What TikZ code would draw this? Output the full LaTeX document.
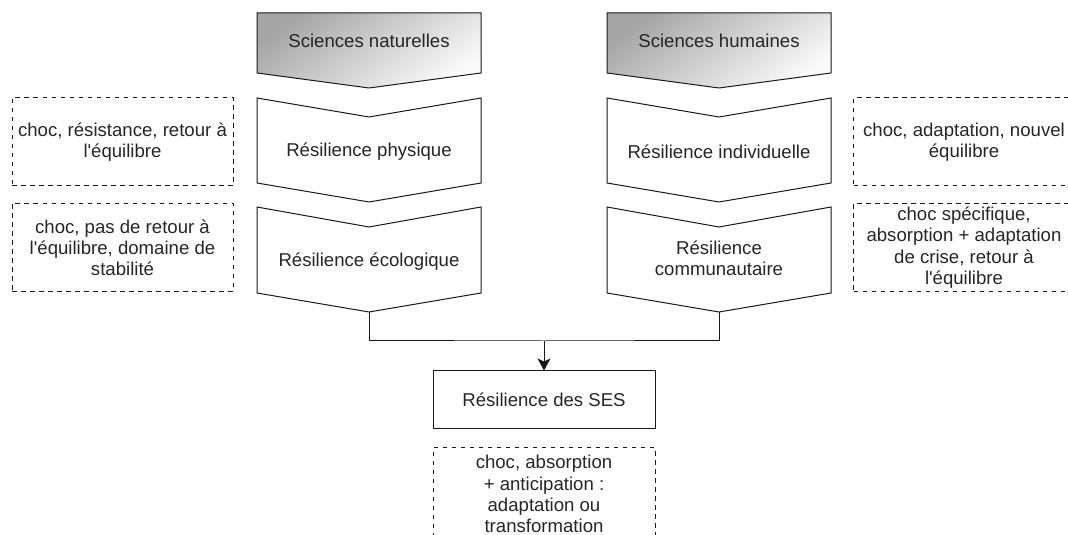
\documentclass[tikz,border=0pt]{standalone}
\usepackage{fontspec}
\setmainfont{Liberation Sans}
\usetikzlibrary{positioning,arrows.meta}

\begin{document}
\begin{tikzpicture}[x=1pt, y=1pt, line width=1pt, font=\fontsize{18.6}{21.2}\selectfont,
  txt/.style={text=black!85, align=center},
  chev/.style={draw=black!90, line join=miter, fill=white},
  head/.style={draw=black!90, line join=miter, top color=gray!70, bottom color=gray!4, shading angle=35},
  note/.style={draw=black!90, dash pattern=on 4.5pt off 4.5pt, minimum width=221pt, minimum height=88pt, inner sep=0pt, text=black!85, align=center},
  box/.style={draw=black!90, minimum width=222pt, minimum height=58pt, inner sep=0pt, text=black!85},
  ar/.style={-{Stealth[length=12pt,width=13pt,inset=3pt]}}]
      \useasboundingbox (0,0) rectangle (1068,535);
      \clip (0,0) rectangle (1068,535);

      % chevrons, left column
      \draw[head] (257,522) -- (481,522) -- (481,462) -- (369,447) -- (257,462) -- cycle;
      \draw[chev] (257,437) -- (369,418) -- (481,437) -- (481,352) -- (369,333) -- (257,352) -- cycle;
      \draw[chev] (257,328) -- (369,308) -- (481,328) -- (481,242) -- (369,223) -- (257,242) -- cycle;
      % chevrons, right column
      \draw[head] (607,522) -- (831,522) -- (831,462) -- (719,447) -- (607,462) -- cycle;
      \draw[chev] (607,437) -- (719,418) -- (831,437) -- (831,352) -- (719,333) -- (607,352) -- cycle;
      \draw[chev] (607,328) -- (719,308) -- (831,328) -- (831,242) -- (719,223) -- (607,242) -- cycle;

      \node[txt] (natur) at (369,494) {Sciences naturelles};
      \node[txt] (phys) at (369,383) {Résilience physique};
      \node[txt] (eco) at (369,273) {Résilience écologique};
      \node[txt] (humain) at (719,494) {Sciences humaines};
      \node[txt] (indiv) at (719,383) {Résilience individuelle};
      \node[txt] (commu) at (719,277) {Résilience\\communautaire};

      \coordinate (ecoTip) at (369,223);
      \coordinate (commuTip) at (719,223);
      \coordinate (join) at (544,194);

      % notes
      \node[note] (n1) at (122.5,393) {choc, résistance, retour à\\l\textquotesingle équilibre};
      \node[note] (n2) at (122.5,287.5) {choc, pas de retour à\\l\textquotesingle équilibre, domaine de\\stabilité};
      \node[note] (n3) at (964,393) {choc, adaptation, nouvel\\équilibre};
      \node[note] (n4) at (964,287.5) {choc spécifique,\\absorption + adaptation\\de crise, retour à\\l\textquotesingle équilibre};

      \node[box] (ses) at (544,135) {Résilience des SES};
      \node[note, minimum width=222pt, minimum height=92pt] (n5) at (544,41) {choc, absorption\\+ anticipation :\\adaptation ou\\transformation};

      \draw[draw=black!90] (ecoTip) |- (join) -| (commuTip);
      \draw[draw=black!90, ar] (join) -- (ses);
    \end{tikzpicture}
\end{document}
